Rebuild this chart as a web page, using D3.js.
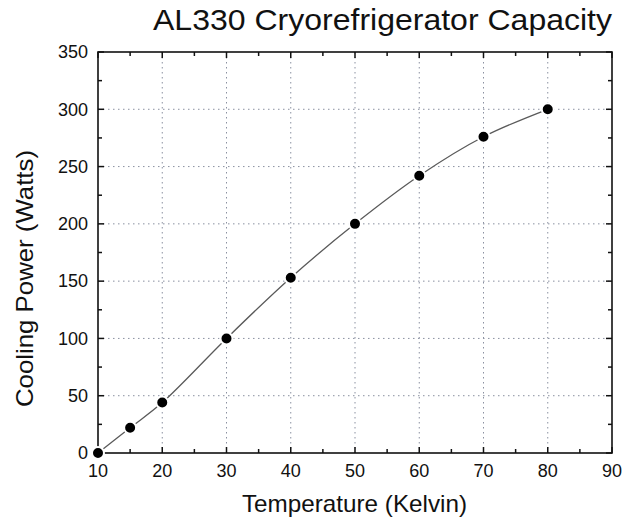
<!DOCTYPE html>
<html>
<head>
<meta charset="utf-8">
<script src="https://cdn.jsdelivr.net/npm/d3@7"></script>
<style>
  body { margin: 0; background: #fff; }
  text { font-family: "Liberation Sans", Arial, sans-serif; fill: #111; }
</style>
</head>
<body>
<svg id="drawing_region"></svg>
<script>
// data
const temps = [10, 15, 20, 30, 40, 50, 60, 70, 80];
const watts = [0, 22, 44, 100, 153, 200, 242, 276, 300];
const xticks = [10, 20, 30, 40, 50, 60, 70, 80, 90];
const yticks = [0, 50, 100, 150, 200, 250, 300, 350];

const width = 623, height = 520;
const margin = {top: 52, right: 11, bottom: 67, left: 98};
const inner_width = width - margin.left - margin.right;
const inner_height = height - margin.top - margin.bottom;

const svg = d3.select('#drawing_region')
    .attr('width', width)
    .attr('height', height);

const chart = svg.append('g')
    .attr('transform', `translate(${margin.left}, ${margin.top})`);

const xscale = d3.scaleLinear().domain([10, 90]).range([0, inner_width]);
const yscale = d3.scaleLinear().domain([0, 350]).range([inner_height, 0]);

// dotted grid at inner major ticks
chart.append('g').selectAll('line')
    .data(xticks.slice(1, -1))
    .join('line')
    .attr('x1', d => xscale(d)).attr('x2', d => xscale(d))
    .attr('y1', 0).attr('y2', inner_height)
    .attr('stroke', '#8a90a0').attr('stroke-width', 1)
    .attr('stroke-dasharray', '1.5,3.5');

chart.append('g').selectAll('line')
    .data(yticks.slice(1, -1))
    .join('line')
    .attr('y1', d => yscale(d)).attr('y2', d => yscale(d))
    .attr('x1', 0).attr('x2', inner_width)
    .attr('stroke', '#8a90a0').attr('stroke-width', 1)
    .attr('stroke-dasharray', '1.5,3.5');

// axes: labels on bottom/left, inward ticks on all four sides
const xminor = d3.range(15, 90, 10);
const yminor = d3.range(25, 350, 50);

function ticks_inward(axis_g, scale, values, len, orient) {
    axis_g.selectAll(null)
        .data(values)
        .join('line')
        .attr('stroke', '#111').attr('stroke-width', 1.5)
        .each(function(d) {
            const s = d3.select(this);
            const p = scale(d);
            if (orient === 'bottom') s.attr('x1', p).attr('x2', p).attr('y1', inner_height).attr('y2', inner_height - len);
            if (orient === 'top') s.attr('x1', p).attr('x2', p).attr('y1', 0).attr('y2', len);
            if (orient === 'left') s.attr('y1', p).attr('y2', p).attr('x1', 0).attr('x2', len);
            if (orient === 'right') s.attr('y1', p).attr('y2', p).attr('x1', inner_width).attr('x2', inner_width - len);
        });
}

const ticks_g = chart.append('g');
['bottom', 'top'].forEach(o => {
    ticks_inward(ticks_g, xscale, xticks, 6, o);
    ticks_inward(ticks_g, xscale, xminor, 4, o);
});
['left', 'right'].forEach(o => {
    ticks_inward(ticks_g, yscale, yticks, 6, o);
    ticks_inward(ticks_g, yscale, yminor, 4, o);
});

chart.append('rect')
    .attr('width', inner_width).attr('height', inner_height)
    .attr('fill', 'none').attr('stroke', '#111').attr('stroke-width', 1.6);

chart.append('g').selectAll('text')
    .data(xticks)
    .join('text')
    .attr('x', d => xscale(d))
    .attr('y', inner_height + 24)
    .attr('text-anchor', 'middle')
    .attr('font-size', '18px')
    .text(d => d);

chart.append('g').selectAll('text')
    .data(yticks)
    .join('text')
    .attr('x', -10)
    .attr('y', d => yscale(d))
    .attr('dy', '0.35em')
    .attr('text-anchor', 'end')
    .attr('font-size', '18px')
    .text(d => d);

// smooth line and markers
const points = temps.map((t, i) => ({x: t, y: watts[i]}));

const line = d3.line()
    .x(d => xscale(d.x))
    .y(d => yscale(d.y))
    .curve(d3.curveCatmullRom.alpha(0.5));

chart.append('path')
    .attr('d', line(points))
    .attr('fill', 'none')
    .attr('stroke', '#5a5a5a')
    .attr('stroke-width', 1.3);

chart.selectAll('circle')
    .data(points)
    .join('circle')
    .attr('cx', d => xscale(d.x))
    .attr('cy', d => yscale(d.y))
    .attr('r', 6)
    .attr('fill', '#000')
    .attr('stroke', '#fff')
    .attr('stroke-width', 2);

// titles
svg.append('text')
    .attr('x', 153).attr('y', 30)
    .attr('font-size', '29px')
    .attr('textLength', 459).attr('lengthAdjust', 'spacingAndGlyphs')
    .text('AL330 Cryorefrigerator Capacity');

svg.append('text')
    .attr('x', 242).attr('y', 512)
    .attr('font-size', '24px')
    .attr('textLength', 225).attr('lengthAdjust', 'spacingAndGlyphs')
    .text('Temperature (Kelvin)');

svg.append('text')
    .attr('transform', 'translate(33, 407) rotate(-90)')
    .attr('font-size', '24px')
    .attr('textLength', 257).attr('lengthAdjust', 'spacingAndGlyphs')
    .text('Cooling Power (Watts)');
</script>
</body>
</html>
